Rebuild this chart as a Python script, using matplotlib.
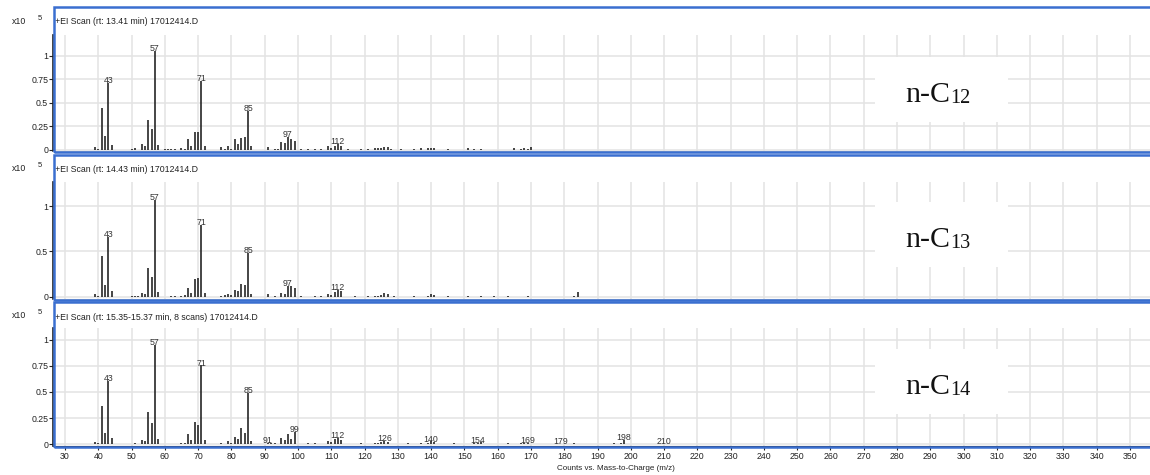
import matplotlib
matplotlib.use("Agg")
import matplotlib.pyplot as plt
from matplotlib.patches import Rectangle

plt.rcParams["font.family"] = ["Liberation Sans", "DejaVu Sans"]

# ---- spectra (abundance in units of 1e5 counts) ----
mz_c12 = [39, 40, 41, 42, 43, 44, 50, 51, 53, 54, 55, 56, 57, 58, 60, 61, 62, 63,
          65, 66, 67, 68, 69, 70, 71, 72, 77, 78, 79, 80, 81, 82, 83, 84, 85, 86,
          91, 93, 94, 95, 96, 97, 98, 99, 101, 103, 105, 107, 109, 110, 111, 112,
          113, 115, 119, 121, 123, 124, 125, 126, 127, 128, 131, 135, 137, 139,
          140, 141, 145, 151, 153, 155, 165, 167, 168, 169, 170]
ab_c12 = [0.03, 0.01, 0.44, 0.14, 0.71, 0.05, 0.01, 0.015, 0.06, 0.04, 0.32, 0.22,
          1.05, 0.045, 0.005, 0.006, 0.005, 0.004, 0.02, 0.01, 0.11, 0.04, 0.19,
          0.19, 0.73, 0.04, 0.025, 0.01, 0.035, 0.01, 0.11, 0.06, 0.12, 0.13, 0.41,
          0.035, 0.025, 0.01, 0.01, 0.08, 0.07, 0.135, 0.11, 0.09, 0.006, 0.005,
          0.008, 0.006, 0.04, 0.02, 0.035, 0.06, 0.04, 0.006, 0.008, 0.01, 0.012,
          0.015, 0.02, 0.03, 0.025, 0.01, 0.008, 0.01, 0.012, 0.015, 0.02, 0.012,
          0.008, 0.015, 0.008, 0.006, 0.012, 0.01, 0.015, 0.01, 0.03]
lab_c12 = [43, 57, 71, 85, 97, 112]

mz_c13 = [39, 40, 41, 42, 43, 44, 50, 51, 52, 53, 54, 55, 56, 57, 58, 62, 63, 65,
          66, 67, 68, 69, 70, 71, 72, 77, 78, 79, 80, 81, 82, 83, 84, 85, 86, 91,
          93, 95, 96, 97, 98, 99, 101, 105, 107, 109, 110, 111, 112, 113, 117, 121,
          123, 124, 125, 126, 127, 129, 135, 139, 140, 141, 145, 151, 155, 159,
          163, 169, 183, 184]
ab_c13 = [0.03, 0.01, 0.45, 0.13, 0.655, 0.065, 0.005, 0.01, 0.008, 0.045, 0.03,
          0.32, 0.22, 1.07, 0.05, 0.005, 0.005, 0.01, 0.015, 0.1, 0.045, 0.195,
          0.21, 0.79, 0.04, 0.01, 0.02, 0.035, 0.02, 0.075, 0.065, 0.14, 0.13, 0.48,
          0.035, 0.025, 0.01, 0.045, 0.035, 0.12, 0.115, 0.1, 0.006, 0.006, 0.006,
          0.025, 0.02, 0.055, 0.075, 0.065, 0.006, 0.008, 0.01, 0.012, 0.02, 0.045,
          0.035, 0.01, 0.008, 0.012, 0.025, 0.015, 0.012, 0.008, 0.01, 0.006,
          0.006, 0.008, 0.01, 0.05]
lab_c13 = [43, 57, 71, 85, 97, 112]

mz_c14 = [39, 40, 41, 42, 43, 44, 51, 53, 54, 55, 56, 57, 58, 65, 66, 67, 68, 69,
          70, 71, 72, 77, 79, 80, 81, 82, 83, 84, 85, 86, 91, 92, 93, 95, 96, 97,
          98, 99, 103, 105, 109, 110, 111, 112, 113, 119, 123, 124, 125, 126, 127,
          133, 137, 139, 140, 141, 147, 153, 154, 155, 163, 167, 168, 169, 175,
          179, 183, 195, 197, 198, 210]
ab_c14 = [0.02, 0.01, 0.37, 0.11, 0.605, 0.06, 0.01, 0.04, 0.03, 0.305, 0.2, 0.95,
          0.045, 0.01, 0.01, 0.095, 0.04, 0.21, 0.185, 0.755, 0.04, 0.01, 0.03,
          0.01, 0.07, 0.05, 0.15, 0.11, 0.49, 0.03, 0.012, 0.006, 0.008, 0.055,
          0.04, 0.1, 0.045, 0.12, 0.006, 0.006, 0.03, 0.02, 0.05, 0.06, 0.04, 0.006,
          0.008, 0.01, 0.015, 0.03, 0.02, 0.006, 0.008, 0.01, 0.025, 0.015, 0.006,
          0.008, 0.012, 0.015, 0.006, 0.008, 0.01, 0.012, 0.005, 0.005, 0.006,
          0.006, 0.01, 0.04, 0.005]
lab_c14 = [43, 57, 71, 85, 91, 99, 112, 126, 140, 154, 169, 179, 198, 210]

headers = ["+EI Scan (rt: 13.41 min) 17012414.D",
           "+EI Scan (rt: 14.43 min) 17012414.D",
           "+EI Scan (rt: 15.35-15.37 min, 8 scans) 17012414.D"]
names = ["12", "13", "14"]
xticks = list(range(30, 351, 10))

W, H = 1150, 475
fig = plt.figure(figsize=(W / 100, H / 100), dpi=100)


def frac(x0, y0, x1, y1):
    # pixel box (top-left origin) -> figure fraction rect
    return [x0 / W, 1 - y1 / H, (x1 - x0) / W, (y1 - y0) / H]


# layout per panel: border top/bottom, axes top/bottom px, ylim, yticks, label centre y
panels = [
    dict(border=(7, 151.5), ax=(35, 151), ylim=(-0.016, 1.223),
         yt=[0, 0.25, 0.5, 0.75, 1], lab_y=92),
    dict(border=(154.5, 299.5), ax=(182, 298.5), ylim=(-0.02, 1.265),
         yt=[0, 0.5, 1], lab_y=237),
    dict(border=(302, 447), ax=(328, 446), ylim=(-0.019, 1.115),
         yt=[0, 0.25, 0.5, 0.75, 1], lab_y=384),
]
spectra = [(mz_c12, ab_c12, lab_c12), (mz_c13, ab_c13, lab_c13),
           (mz_c14, ab_c14, lab_c14)]

blue = "#3a6fd0"
for i, (p, (mz, ab, labs), head, nm) in enumerate(zip(panels, spectra, headers, names)):
    t, b = p["ax"]
    ax = fig.add_axes(frac(53, t, 1150, b))
    ax.set_xlim(26.4, 356.0)
    ax.set_ylim(*p["ylim"])
    ax.set_xticks(xticks)
    ax.set_yticks(p["yt"])
    ax.set_yticklabels([f"{v:g}" for v in p["yt"]])
    ax.grid(True, color="#e3e3e3", lw=1.1)
    ax.set_axisbelow(True)
    for s in ("top", "right"):
        ax.spines[s].set_visible(False)
    ax.spines["left"].set_color("#222222")
    ax.spines["left"].set_linewidth(1.2)
    ax.spines["bottom"].set_color("#222222" if i == 2 else "#c8c8c8")
    ax.tick_params(axis="y", labelsize=6.3, length=3, pad=0.5, colors="#222222")
    if i == 2:
        ax.tick_params(axis="x", labelsize=6.3, length=3, pad=1.5, colors="#222222")
        ax.set_xticklabels([str(v) for v in xticks])
    else:
        ax.tick_params(axis="x", length=0, labelbottom=False)

    ax.vlines(mz, 0, ab, color="#262626", lw=1.2)
    for m in labs:
        h = ab[mz.index(m)]
        ax.annotate(str(m), (m, h), xytext=(0, -1.5), textcoords="offset points",
                    ha="center", va="bottom", fontsize=6.3, color="#333333")

    # panel frame runs off the right edge
    bt, bb = p["border"]
    fig.add_artist(Rectangle((54 / W, 1 - bb / H), (1170 - 54) / W, (bb - bt) / H,
                             transform=fig.transFigure, fill=False,
                             edgecolor=blue, lw=1.8, zorder=5))
    fig.text(55 / W, 1 - (bt + 15) / H, head, fontsize=6.3, color="#222222",
             va="center", ha="left")
    fig.text(12 / W, 1 - (bt + 14) / H, "x10", fontsize=6.3, color="#222222",
             va="center", ha="left")
    fig.text(38 / W, 1 - (bt + 11) / H, "5", fontsize=5.5, color="#222222",
             va="center", ha="left")

    # compound name on a white card
    ly = p["lab_y"]
    fig.add_artist(Rectangle((875 / W, 1 - (ly + 30) / H), 133 / W, 65 / H,
                             transform=fig.transFigure, facecolor="white",
                             edgecolor="none", zorder=3))
    tx = fig.text(905 / W, 1 - (ly + 10) / H, "n-C", fontsize=21.5,
                  family=["Liberation Serif", "DejaVu Serif"], color="#111111",
                  ha="left", va="baseline", zorder=4)
    fig.add_artist(plt.Annotation(nm, xy=(1, 0), xycoords=tx, fontsize=14.5,
                                  family=["Liberation Serif", "DejaVu Serif"],
                                  color="#111111", ha="left", va="bottom", zorder=4))

fig.text(616 / W, 1 - 469 / H, "Counts vs. Mass-to-Charge (m/z)", fontsize=5.8,
         color="#222222", ha="center", va="center")

fig.savefig("out.png", dpi=100)
